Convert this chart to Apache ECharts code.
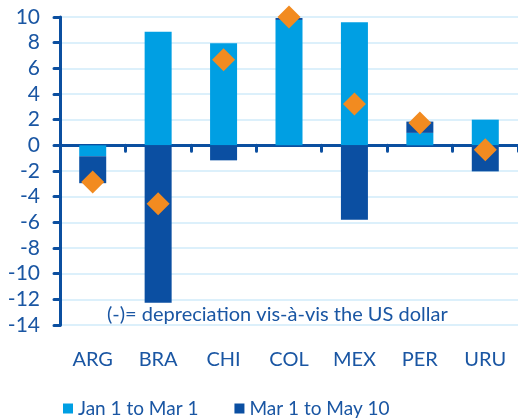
<!DOCTYPE html>
<html>
<head>
<meta charset="utf-8">
<script src="https://cdn.jsdelivr.net/npm/echarts@6/dist/echarts.min.js"></script>
<style>
  html, body { margin: 0; padding: 0; background: #fff; }
  #main { width: 518px; height: 419px; }
</style>
</head>
<body>
<div id="main"></div>
<script>
// 国家 / 区间数据
var countries = ['ARG', 'BRA', 'CHI', 'COL', 'MEX', 'PER', 'URU']
var janToMar = [-0.85, 8.86, 7.95, 9.77, 9.59, 0.97, 2.0]
var marToMay = [-2.1, -12.27, -1.17, 0.15, -5.8, 0.88, -2.03]
var janToMay = [-2.86, -4.55, 6.67, 10.0, 3.23, 1.75, -0.34]
var yTicks = { min: -14, max: 10, step: 2 }

var textColor = '#1a56a3'
var axisColor = '#0b4fa0'
var font = 'Lato'

var chart = echarts.init(document.getElementById('main'))

var option = {
  animation: false,
  textStyle: { fontFamily: font },
  grid: {
    left: 60,
    right: 0,
    top: 17,
    bottom: 94,
    containLabel: false,
    outerBoundsMode: 'none'
  },
  legend: {
    data: ['Jan 1 to Mar 1', 'Mar 1 to May 10'],
    left: 58,
    top: 394,
    itemWidth: 10,
    itemHeight: 10,
    itemGap: 36,
    icon: 'rect',
    textStyle: { color: textColor, fontSize: 19, fontFamily: font }
  },
  xAxis: [
    {
      type: 'category',
      data: countries,
      axisLine: { onZero: true, lineStyle: { color: axisColor, width: 3 } },
      axisTick: { show: true, length: 6, lineStyle: { color: axisColor, width: 3, cap: 'round' } },
      axisLabel: { show: false },
      splitLine: { show: false }
    },
    {
      type: 'category',
      data: countries,
      position: 'bottom',
      axisLine: { show: false },
      axisTick: { show: false },
      axisLabel: { color: textColor, fontSize: 20, margin: 25, fontFamily: font },
      splitLine: { show: false }
    }
  ],
  yAxis: {
    type: 'value',
    min: yTicks.min,
    max: yTicks.max,
    interval: yTicks.step,
    axisLine: { show: true, lineStyle: { color: axisColor, width: 3 } },
    axisTick: { show: true, length: 6, lineStyle: { color: axisColor, width: 3, cap: 'round' } },
    axisLabel: { color: textColor, fontSize: 21, margin: 20, fontFamily: font },
    splitLine: { show: true, lineStyle: { color: '#dcf0fb', width: 2 } }
  },
  graphic: [
    {
      type: 'text',
      left: 107,
      top: 305,
      style: {
        text: '(-)= depreciation vis-à-vis the US dollar',
        fill: textColor,
        fontSize: 20,
        fontFamily: font
      }
    }
  ],
  series: [
    {
      name: 'Jan 1 to Mar 1',
      type: 'bar',
      stack: 'total',
      barWidth: 27,
      itemStyle: { color: '#009fe3' },
      data: janToMar
    },
    {
      name: 'Mar 1 to May 10',
      type: 'bar',
      stack: 'total',
      barWidth: 27,
      itemStyle: { color: '#0b4fa2' },
      data: marToMay
    },
    {
      name: 'Jan 1 to May 10',
      type: 'scatter',
      symbol: 'diamond',
      symbolSize: [23, 23],
      itemStyle: { color: '#f28b20', opacity: 1 },
      z: 5,
      data: janToMay
    }
  ]
}

chart.setOption(option, true)
</script>
</body>
</html>
